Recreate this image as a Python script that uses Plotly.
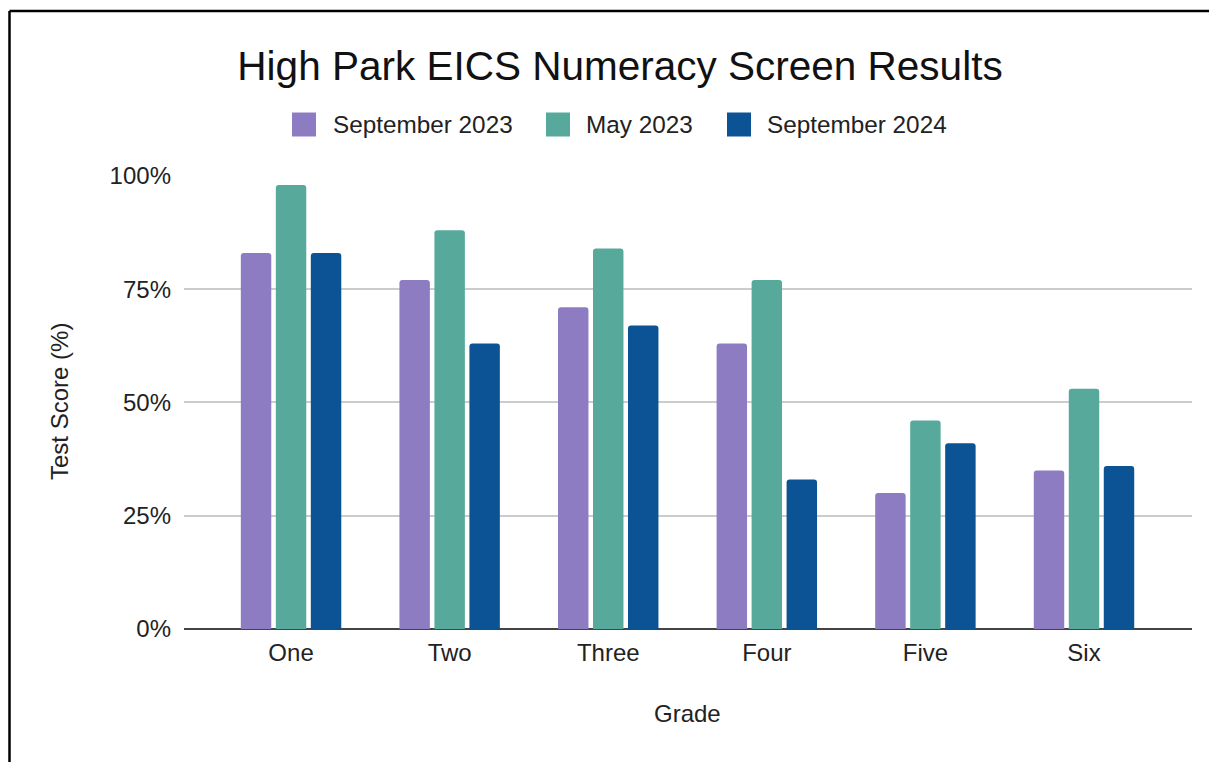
import plotly.graph_objects as go

grades = ["One", "Two", "Three", "Four", "Five", "Six"]
sep_2023 = [0.83, 0.77, 0.71, 0.63, 0.30, 0.35]
may_2023 = [0.98, 0.88, 0.84, 0.77, 0.46, 0.53]
sep_2024 = [0.83, 0.63, 0.67, 0.33, 0.41, 0.36]

series_names = ["September 2023", "May 2023", "September 2024"]
series_values = [sep_2023, may_2023, sep_2024]
colors = ["#8e7cc3", "#57a99b", "#0b5394"]

OFF = 8  # page body margin
W, H = 1217 - OFF, 762 - OFF
# plot area in screen pixels: x 184..1192, y 175..629
L, R, T, B = 184 - OFF, 1217 - 1192, 175 - OFF, 762 - 629
PW, PH = W - L - R, H - T - B
FONT = "Arial, Liberation Sans, sans-serif"

def px(x):
    return (x - OFF - L) / PW

def py(y):
    return (H - B - (y - OFF)) / PH

fig = go.Figure()
for name, vals, col in zip(series_names, series_values, colors):
    fig.add_trace(go.Bar(x=grades, y=vals, name=name, marker=dict(color=col, line=dict(width=0)),
                         showlegend=False))

shapes = []
annotations = []
# border (left and top)
shapes.append(dict(type="line", xref="paper", yref="paper", x0=px(9.5), x1=px(1230), y0=py(11), y1=py(11),
                   line=dict(color="black", width=2.5)))
shapes.append(dict(type="line", xref="paper", yref="paper", x0=px(9.5), x1=px(9.5), y0=py(11), y1=py(780),
                   line=dict(color="black", width=2.5)))

# manual legend
leg_sq_x = [292, 546, 727]
leg_tx_x = [331, 584, 765]
leg_y = 124.5
for name, col, sx, tx in zip(series_names, colors, leg_sq_x, leg_tx_x):
    x0, x1 = px(sx), px(sx + 24)
    y0, y1 = py(leg_y + 12), py(leg_y - 12)
    shapes.append(dict(type="rect", xref="paper", yref="paper", x0=x0, x1=x1, y0=y0, y1=y1,
                       fillcolor=col, line=dict(width=0)))
    annotations.append(dict(text=name, xref="paper", yref="paper", x=px(tx), y=py(leg_y),
                            xanchor="left", yanchor="middle", showarrow=False,
                            font=dict(size=24.3, color="#222222", family=FONT)))

# axis titles
annotations.append(dict(text="Grade", xref="paper", yref="paper", x=px(687), y=py(713),
                        xanchor="center", yanchor="middle", showarrow=False,
                        font=dict(size=24, color="#222222", family=FONT)))
annotations.append(dict(text="Test Score (%)", xref="paper", yref="paper", x=px(59), y=py(402),
                        xanchor="center", yanchor="middle", showarrow=False, textangle=-90,
                        font=dict(size=24, color="#222222", family=FONT)))

fig.update_layout(
    width=W, height=H,
    margin=dict(l=L, r=R, t=T, b=B),
    paper_bgcolor="white", plot_bgcolor="white",
    font=dict(family=FONT, size=24, color="#222222"),
    title=dict(text="High Park EICS Numeracy Screen Results", xref="container", yref="container",
               x=(620 - OFF) / W, y=1 - (66 - OFF) / H, xanchor="center", yanchor="middle",
               font=dict(size=40.5, color="#111111", family=FONT)),
    barmode="group", bargap=0.338, bargroupgap=0.13, barcornerradius=3,
    shapes=shapes, annotations=annotations,
    xaxis=dict(range=[-0.675, 5.681], showgrid=False, showline=False, ticks="",
               ticklabelstandoff=7, tickfont=dict(size=24, color="#222222")),
    yaxis=dict(range=[0, 1.002], tickvals=[0, 0.25, 0.5, 0.75, 1.0], tickformat=".0%",
               showgrid=True, gridcolor="#cccccc",
               gridwidth=1.5, zeroline=True, zerolinecolor="#444444", zerolinewidth=2,
               showline=False, ticks="", ticklabelstandoff=12,
               tickfont=dict(size=24, color="#222222")),
)

fig.write_html("out.html")
